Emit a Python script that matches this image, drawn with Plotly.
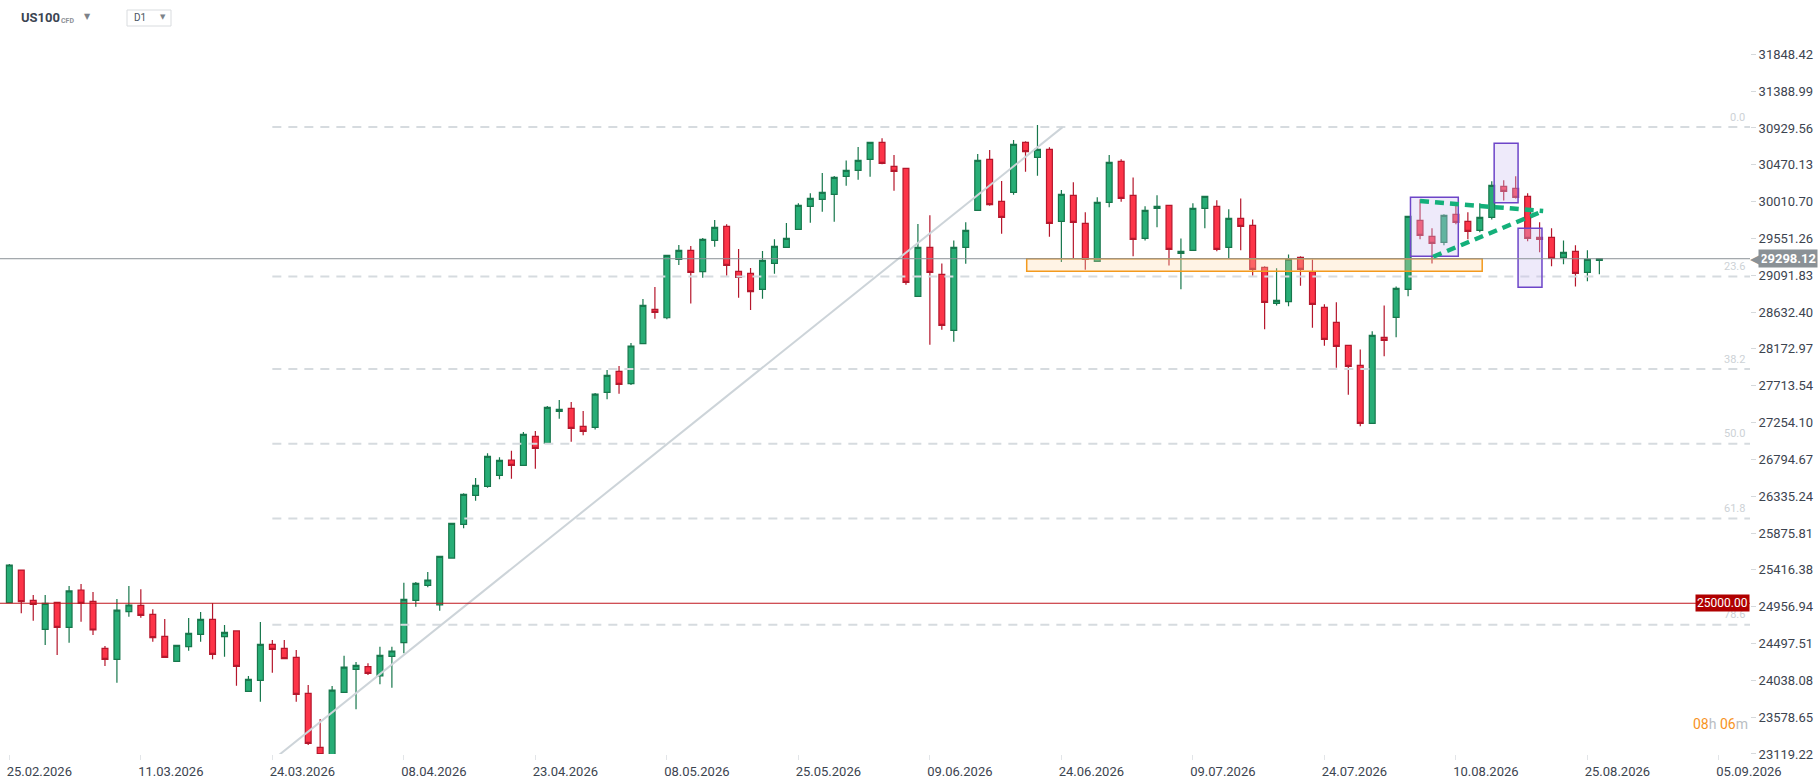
import plotly.graph_objects as go

# daily candles, US100 CFD
OPEN = [25007, 25414, 25036, 24674, 25011, 24699, 25165, 25024, 24437, 24300,
        24895, 24974, 24861, 24587, 24275, 24458, 24612, 24799, 24583, 24654,
        23901, 24038, 24487, 24437, 24325, 23876, 23202, 23090, 23888, 24175,
        24208, 24092, 24337, 24508, 25036, 25223, 24978, 25564, 25984, 26346,
        26458, 26595, 26787, 26720, 27082, 26995, 27394, 27431, 27207, 27194,
        27631, 27893, 27739, 28238, 28667, 28562, 29290, 29403, 29136, 29527,
        29702, 29141, 29116, 28916, 29240, 29440, 29665, 29952, 30039, 30101,
        30326, 30401, 30538, 30750, 30451, 30426, 28829, 29440, 29103, 28404,
        29440, 29902, 30538, 30014, 30126, 30750, 30563, 30663, 29764, 30089,
        29739, 29265, 30002, 30513, 30089, 29552, 29927, 29964, 29365, 29403,
        29927, 29952, 29440, 29802, 29714, 29190, 28741, 28762, 29315, 29136,
        28691, 28504, 28217, 27968, 27244, 28317, 28567, 28916, 29777, 29577,
        29502, 29852, 29764, 29652, 29814, 30201, 30176, 30076, 29565, 29565,
        29315, 29390, 29128, 29278]
HIGH = [25489, 25414, 25103, 25103, 25011, 25215, 25240, 25140, 24466, 25053,
        25215, 25173, 24924, 24803, 24475, 24816, 24891, 25003, 24728, 24654,
        24092, 24766, 24541, 24541, 24416, 23980, 23555, 23967, 24346, 24266,
        24250, 24458, 24458, 25256, 25265, 25389, 25585, 25997, 26371, 26562,
        26870, 26820, 26903, 27136, 27149, 27461, 27535, 27510, 27398, 27623,
        27910, 27960, 28247, 28796, 28945, 29340, 29469, 29457, 29556, 29781,
        29727, 29419, 29182, 29394, 29540, 29744, 29989, 30114, 30367, 30330,
        30525, 30692, 30750, 30800, 30592, 30426, 29731, 29839, 29240, 29527,
        29752, 30604, 30654, 30268, 30779, 30763, 30966, 30688, 30155, 30251,
        29877, 30064, 30592, 30538, 30313, 29952, 30089, 29964, 29552, 29989,
        30076, 30027, 29914, 30051, 29789, 29203, 29178, 29352, 29328, 29290,
        28729, 28754, 28217, 28167, 28392, 28716, 28953, 29827, 30039, 29677,
        29852, 29977, 29877, 29989, 30264, 30276, 30326, 30114, 29752, 29677,
        29527, 29465, 29403, 29303]
LOW = [25007, 24874, 24782, 24479, 24354, 24508, 24770, 24604, 24217, 24009,
       24832, 24820, 24520, 24325, 24275, 24408, 24520, 24300, 24333, 23971,
       23901, 23772, 24134, 24300, 23772, 23231, 23040, 23070, 23888, 23676,
       24104, 23988, 23946, 24375, 24957, 25198, 24907, 25556, 25934, 26279,
       26442, 26546, 26554, 26720, 26679, 26995, 27302, 27016, 27095, 27169,
       27544, 27614, 27722, 28238, 28550, 28542, 29220, 28741, 29061, 29448,
       29086, 28812, 28658, 28800, 29111, 29440, 29665, 29748, 29885, 29760,
       30209, 30284, 30322, 30476, 30147, 28974, 28829, 28225, 28413, 28263,
       29236, 29902, 29960, 29611, 30097, 30384, 30334, 29573, 29257, 29299,
       29161, 29265, 29939, 30010, 29328, 29527, 29690, 29215, 28916, 29403,
       29677, 29390, 29303, 29403, 29087, 28417, 28716, 28704, 28962, 28438,
       28213, 27939, 27602, 27207, 27244, 28080, 28317, 28829, 29540, 29240,
       29465, 29727, 29540, 29627, 29789, 30026, 30051, 29515, 29378, 29203,
       29228, 28953, 29016, 29103]
CLOSE = [25477, 25019, 24986, 24999, 24699, 25153, 24999, 24666, 24300, 24915,
         24978, 24849, 24570, 24325, 24475, 24624, 24799, 24362, 24637, 24213,
         24050, 24487, 24425, 24308, 23863, 23252, 23110, 23917, 24204, 24225,
         24125, 24350, 24404, 25048, 25248, 25290, 25585, 25997, 26358, 26471,
         26833, 26783, 26720, 27107, 26932, 27444, 27419, 27182, 27144, 27610,
         27843, 27731, 28209, 28717, 28629, 29340, 29403, 29128, 29540, 29690,
         29215, 29066, 28887, 29278, 29452, 29552, 29964, 30051, 30126, 30313,
         30401, 30525, 30750, 30488, 30388, 29003, 29440, 29128, 28467, 29440,
         29652, 30525, 29972, 29814, 30725, 30634, 30663, 29739, 30101, 29752,
         29290, 30002, 30501, 30051, 29540, 29902, 29952, 29415, 29390, 29927,
         30076, 29415, 29802, 29702, 29166, 28754, 28779, 29290, 29166, 28729,
         28292, 28205, 27955, 27244, 28342, 28280, 28928, 29827, 29590, 29490,
         29839, 29752, 29640, 29814, 30214, 30139, 30064, 29552, 29540, 29303,
         29378, 29116, 29290, 29298.12]

DATE_LABELS = ['25.02.2026', '11.03.2026', '24.03.2026', '08.04.2026', '23.04.2026',
               '08.05.2026', '25.05.2026', '09.06.2026', '24.06.2026', '09.07.2026',
               '24.07.2026', '10.08.2026', '25.08.2026', '05.09.2026']
BARS_PER_LABEL = 11

Y_TICKS = [31848.42, 31388.99, 30929.56, 30470.13, 30010.70, 29551.26, 29091.83,
           28632.40, 28172.97, 27713.54, 27254.10, 26794.67, 26335.24, 25875.81,
           25416.38, 24956.94, 24497.51, 24038.08, 23578.65, 23119.22]

LAST_PRICE = 29298.12
LEVEL_25K = 25000.00

# fibonacci drawing (swing low -> swing high)
FIB_LOW, FIB_HIGH = 23040, 30940
FIB_START, FIB_END = 22.0, 88.1
FIB_LEVELS = [0.0, 23.6, 38.2, 50.0, 61.8, 78.6]

# user drawings
ZONE = dict(x0=85.1, x1=123.2, y0=29141, y1=29299)
BOXES = [(117.2, 121.2, 29329, 30064), (124.2, 126.2, 29997, 30738), (126.2, 128.2, 28942, 29678)]
TRIANGLE = [((118.0, 30017), (128.3, 29893)), ((119.1, 29323), (128.3, 29893))]

X_RANGE = [-0.78, 145.6]
Y_RANGE = [23119, 32526]
PLOT_W, PLOT_H = 1750, 754
FONT = 'Roboto'

x = list(range(len(OPEN)))
fig = go.Figure()
fig.add_trace(go.Candlestick(
    x=x, open=OPEN, high=HIGH, low=LOW, close=CLOSE,
    increasing=dict(fillcolor='#27ad76', line=dict(color='#17774c', width=1.2)),
    decreasing=dict(fillcolor='#fd3448', line=dict(color='#b5172c', width=1.2)),
    showlegend=False, hoverinfo='skip'
))

shapes = []
# fib levels
for lvl in FIB_LEVELS:
    p = FIB_HIGH - lvl / 100 * (FIB_HIGH - FIB_LOW)
    shapes.append(dict(type='line', xref='x', yref='y', x0=FIB_START, x1=X_RANGE[1] + 1,
                       y0=p, y1=p, line=dict(color='#d6dbdf', width=2, dash='9px,7px'),
                       layer='above'))
# diagonal of the fib tool
shapes.append(dict(type='line', xref='x', yref='y', x0=FIB_START, y0=FIB_LOW, x1=FIB_END, y1=FIB_HIGH,
                   line=dict(color='#cdd4d9', width=2), layer='above'))
# support zone
shapes.append(dict(type='rect', xref='x', yref='y', **ZONE,
                   fillcolor='rgba(255,215,170,0.3)', line=dict(color='#f39a1e', width=1.5),
                   layer='above'))
# purple boxes
for bx0, bx1, by0, by1 in BOXES:
    shapes.append(dict(type='rect', xref='x', yref='y', x0=bx0, x1=bx1, y0=by0, y1=by1,
                       fillcolor='rgba(205,195,240,0.35)', line=dict(color='#6d45c8', width=1.5),
                       layer='above'))
# triangle lines
for (ax, ay), (bx, by) in TRIANGLE:
    shapes.append(dict(type='line', xref='x', yref='y', x0=ax, y0=ay, x1=bx, y1=by,
                       line=dict(color='#14b07a', width=4.5, dash='9px,6px'), layer='above'))
# horizontal lines
shapes.append(dict(type='line', xref='paper', yref='y', x0=0, x1=1, y0=LAST_PRICE, y1=LAST_PRICE,
                   line=dict(color='#8b9197', width=1), layer='above'))
shapes.append(dict(type='line', xref='paper', yref='y', x0=0, x1=1, y0=LEVEL_25K, y1=LEVEL_25K,
                   line=dict(color='#c0161c', width=1.2), layer='above'))
# D1 selector box
shapes.append(dict(type='rect', xref='paper', yref='paper',
                   x0=127 / PLOT_W, x1=171 / PLOT_W, y0=1 - 26 / PLOT_H, y1=1 - 10 / PLOT_H,
                   line=dict(color='#d9dcdf', width=1), fillcolor='white'))

ann = []
for lvl in FIB_LEVELS:
    p = FIB_HIGH - lvl / 100 * (FIB_HIGH - FIB_LOW)
    ann.append(dict(xref='paper', yref='y', x=0.998, y=p, yshift=10, xanchor='right',
                    text=f'{lvl:.1f}', showarrow=False, font=dict(size=11, color='#cdd2d6', family=FONT)))
# price tags
ann.append(dict(xref='paper', yref='y', x=1, y=LEVEL_25K, xanchor='right', text=f'{LEVEL_25K:.2f}',
                showarrow=False, bgcolor='#b00000', borderpad=1,
                font=dict(size=12, color='white', family=FONT)))
ann.append(dict(xref='paper', yref='y', x=1, y=LAST_PRICE, xanchor='left', xshift=8,
                text=f'<b>{LAST_PRICE:.2f}</b>', showarrow=False, bgcolor='#8a9196', borderpad=1,
                font=dict(size=13, color='white', family=FONT)))
ann.append(dict(xref='paper', yref='y', x=1, y=LAST_PRICE, xanchor='left', xshift=-2,
                text='◀', showarrow=False, font=dict(size=15, color='#8a9196', family='DejaVu Sans')))
# header
ann.append(dict(xref='paper', yref='paper', x=19 / PLOT_W, y=1 - 18 / PLOT_H, xanchor='left',
                yanchor='middle', text='<b>US100</b>', showarrow=False,
                font=dict(size=13, color='#3b4452', family=FONT)))
ann.append(dict(xref='paper', yref='paper', x=59 / PLOT_W, y=1 - 21 / PLOT_H, xanchor='left',
                yanchor='middle', text='<b>CFD</b>', showarrow=False,
                font=dict(size=7, color='#8d9197', family=FONT)))
ann.append(dict(xref='paper', yref='paper', x=82 / PLOT_W, y=1 - 16 / PLOT_H, xanchor='left',
                yanchor='middle', text='▼', showarrow=False,
                font=dict(size=8, color='#7d8288', family='DejaVu Sans')))
ann.append(dict(xref='paper', yref='paper', x=132 / PLOT_W, y=1 - 18 / PLOT_H, xanchor='left',
                yanchor='middle', text='D1', showarrow=False,
                font=dict(size=10, color='#4b5563', family=FONT)))
ann.append(dict(xref='paper', yref='paper', x=158 / PLOT_W, y=1 - 17 / PLOT_H, xanchor='left',
                yanchor='middle', text='▼', showarrow=False,
                font=dict(size=7, color='#7d8288', family='DejaVu Sans')))
# countdown
ann.append(dict(xref='paper', yref='paper', x=1, y=1 - 734 / PLOT_H, xanchor='right',
                text="<span style='color:#f7931e'>08</span><span style='color:#b9bdc2'>h</span> "
                     "<span style='color:#f7931e'>06</span><span style='color:#b9bdc2'>m</span>",
                showarrow=False, font=dict(size=14, family=FONT)))

fig.update_layout(
    width=1818, height=779,
    margin=dict(l=0, r=1818 - PLOT_W, t=0, b=779 - PLOT_H),
    paper_bgcolor='white', plot_bgcolor='white',
    font=dict(family=FONT, color='#3c4450'),
    shapes=shapes, annotations=ann,
    showlegend=False,
    xaxis=dict(
        range=X_RANGE, rangeslider=dict(visible=False),
        tickvals=[i * BARS_PER_LABEL for i in range(len(DATE_LABELS))], ticktext=DATE_LABELS,
        ticks='outside', ticklen=5, tickcolor='#e2e5e8', ticklabelshift=30,
        showgrid=False, zeroline=False, showline=False,
        tickfont=dict(size=13, color='#3c4450', family=FONT),
    ),
    yaxis=dict(
        side='right', range=Y_RANGE,
        tickvals=Y_TICKS, ticktext=[f'{v:.2f}' for v in Y_TICKS],
        ticks='outside', ticklen=5, tickcolor='#d5d9dc',
        showgrid=False, zeroline=False, showline=False,
        tickfont=dict(size=13, color='#3c4450', family=FONT),
    ),
)

# the page's default body margin would push the 1818x779 figure off the window
fig.write_html("out.html", config={'displayModeBar': False},
               post_script="document.body.style.margin='0';")
